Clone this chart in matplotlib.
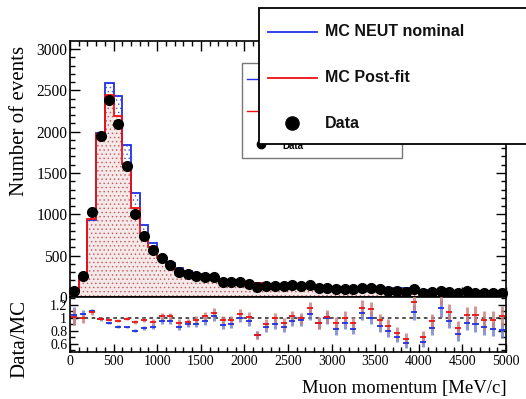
import numpy as np
import matplotlib
matplotlib.use("Agg")
import matplotlib.pyplot as plt
from matplotlib.patches import Rectangle
from matplotlib.lines import Line2D
from matplotlib.ticker import MultipleLocator, FixedLocator, FuncFormatter

# ---------------- data ----------------
bin_edges = np.arange(0, 5001, 100)

data_counts = [72, 250, 1025, 1943, 2379, 2097, 1581, 1008, 738, 565,
               476, 391, 302, 282, 258, 236, 236, 185, 183, 185,
               158, 123, 137, 137, 133, 145, 133, 145, 113, 113,
               97, 97, 97, 105, 105, 93, 77, 77, 65, 93,
               52, 65, 77, 65, 52, 73, 52, 52, 52, 45]

mc_nominal = [69, 238, 927, 1988, 2593, 2435, 1843, 1258, 875, 657,
              501, 412, 351, 310, 284, 248, 231, 208, 203, 185,
              166, 168, 161, 151, 156, 153, 139, 138, 124, 113,
              118, 105, 117, 98, 105, 107, 97, 110, 107, 86,
              83, 78, 67, 68, 70, 79, 58, 61, 63, 56]

mc_postfit = [71, 253, 948, 1976, 2447, 2193, 1609, 1077, 766, 605,
              467, 383, 328, 303, 266, 231, 219, 193, 191, 175,
              156, 168, 151, 138, 146, 142, 134, 126, 123, 111,
              105, 97, 105, 91, 93, 97, 88, 101, 96, 75,
              74, 69, 57, 60, 62, 70, 50, 54, 54, 44]

legend_labels = ["MC NEUT nominal", "MC Post-fit", "Data"]
x_ticks = [0, 500, 1000, 1500, 2000, 2500, 3000, 3500, 4000, 4500, 5000]
y_ticks = [0, 500, 1000, 1500, 2000, 2500, 3000]
ratio_ticks = [0.6, 0.8, 1.0, 1.2]

# ---------------- derived ----------------
data_arr = np.array(data_counts, float)
nom = np.array(mc_nominal, float)
post = np.array(mc_postfit, float)
centers = 0.5 * (bin_edges[:-1] + bin_edges[1:])
data_err = np.sqrt(data_arr)
r_nom = data_arr / nom
r_post = data_arr / post
e_nom = data_err / nom
e_post = data_err / post

BLUE = "#1f2fe8"
RED = "#f01010"

W, H = 526, 399
def fx(x): return x / W
def fy(y): return 1 - y / H

plt.rcParams['hatch.linewidth'] = 0.5
fig = plt.figure(figsize=(W / 100, H / 100), dpi=100)

serif = "Liberation Serif"
sans = "Liberation Sans"

ax = fig.add_axes([fx(70), fy(297), fx(506) - fx(70), fy(41) - fy(297)])
axr = fig.add_axes([fx(70), fy(352), fx(506) - fx(70), fy(297) - fy(352)])

# ---- top panel ----
ax.stairs(nom, bin_edges, fill=True, facecolor="none", edgecolor="#4a5ae0",
          hatch="....", linewidth=0, zorder=1)
ax.stairs(post, bin_edges, fill=True, facecolor="#f5e8e8", edgecolor="#c85858",
          hatch="....", linewidth=0, zorder=2)
ax.stairs(nom, bin_edges, color=BLUE, linewidth=1.3, zorder=3)
ax.stairs(post, bin_edges, color=RED, linewidth=1.3, zorder=4)
ax.errorbar(centers, data_arr, yerr=data_err, fmt="o", color="black",
            ms=7.0, elinewidth=1.0, capsize=0, zorder=5, clip_on=False)

ax.set_xlim(0, 5000)
ax.set_ylim(0, 3097)
ax.xaxis.set_major_locator(FixedLocator(x_ticks))
ax.xaxis.set_minor_locator(MultipleLocator(100))
ax.yaxis.set_major_locator(FixedLocator(y_ticks))
ax.yaxis.set_minor_locator(MultipleLocator(100))
ax.tick_params(which="both", direction="in", top=True, right=True,
               labelbottom=False, width=1.0)
ax.tick_params(which="major", length=7)
ax.tick_params(which="minor", length=3.5)
ax.tick_params(axis="y", labelsize=11.2, pad=2)
for lab in ax.get_yticklabels():
    lab.set_fontfamily(serif)
for s in ax.spines.values():
    s.set_linewidth(1.2)

# ---- ratio panel ----
axr.axhline(1.0, color="#444444", linestyle=(0, (2, 2)), linewidth=1.3, zorder=1)
axr.errorbar(centers, r_nom, yerr=e_nom, fmt="none", ecolor="#6f80cc",
             elinewidth=2.2, alpha=0.8, capsize=0, zorder=2)
axr.errorbar(centers, r_post, yerr=e_post, fmt="none", ecolor="#c88080",
             elinewidth=2.2, alpha=0.8, capsize=0, zorder=3)
axr.errorbar(centers, r_nom, xerr=35, fmt="none", ecolor=BLUE,
             elinewidth=1.3, capsize=0, zorder=4)
axr.errorbar(centers, r_post, xerr=35, fmt="none", ecolor=RED,
             elinewidth=1.3, capsize=0, zorder=5)

axr.set_xlim(0, 5000)
axr.set_ylim(0.47, 1.32)
axr.xaxis.set_major_locator(FixedLocator(x_ticks))
axr.xaxis.set_minor_locator(MultipleLocator(100))
axr.yaxis.set_major_locator(FixedLocator(ratio_ticks))
axr.yaxis.set_minor_locator(MultipleLocator(0.1))
axr.yaxis.set_major_formatter(FuncFormatter(lambda v, p: f"{v:g}"))
axr.tick_params(which="both", direction="in", top=False, right=True, width=1.0)
axr.tick_params(which="major", length=6)
axr.tick_params(which="minor", length=3.5)
axr.tick_params(axis="both", labelsize=10, pad=2)
for lab in axr.get_yticklabels() + axr.get_xticklabels():
    lab.set_fontfamily(serif)
for s in axr.spines.values():
    s.set_linewidth(1.2)

# ---- axis titles ----
fig.text(fx(20), fy(121), "Number of events", rotation=90, ha="center",
         va="center", fontsize=15, family=serif)
fig.text(fx(20), fy(339), "Data/MC", rotation=90, ha="center",
         va="center", fontsize=15, family=serif)
fig.text(fx(507), fy(388), "Muon momentum [MeV/c]", ha="right",
         va="center", fontsize=13.5, family=serif)

# ---- small (background) legend ----
fig.add_artist(Rectangle((fx(242), fy(158)), fx(402) - fx(242), fy(63) - fy(158),
                         transform=fig.transFigure, facecolor="white",
                         edgecolor="#777777", linewidth=1.0, zorder=5))
fig.add_artist(Line2D([fx(247), fx(262)], [fy(79), fy(79)], transform=fig.transFigure,
                      color=BLUE, linewidth=1.0, zorder=6))
fig.add_artist(Line2D([fx(247), fx(262)], [fy(111), fy(111)], transform=fig.transFigure,
                      color=RED, linewidth=1.0, zorder=6))
fig.add_artist(Line2D([fx(261)], [fy(144)], transform=fig.transFigure, marker="o",
                      color="black", ms=6, linestyle="none", zorder=6))
fig.text(fx(282), fy(146), legend_labels[2], fontsize=7, fontweight="bold",
         family=sans, va="center", ha="left", zorder=6)

# ---- main legend ----
fig.add_artist(Rectangle((fx(259), fy(144)), fx(535) - fx(259), fy(8) - fy(144),
                         transform=fig.transFigure, facecolor="white",
                         edgecolor="black", linewidth=1.3, zorder=10))
fig.add_artist(Line2D([fx(268), fx(317)], [fy(32), fy(32)], transform=fig.transFigure,
                      color=BLUE, linewidth=1.3, zorder=11))
fig.add_artist(Line2D([fx(268), fx(317)], [fy(78), fy(78)], transform=fig.transFigure,
                      color=RED, linewidth=1.3, zorder=11))
fig.add_artist(Line2D([fx(292)], [fy(123)], transform=fig.transFigure, marker="o",
                      color="black", ms=9.5, linestyle="none", zorder=11))
for lab, yy in zip(legend_labels, [32, 78, 123]):
    fig.text(fx(325), fy(yy), lab, fontsize=11.5, fontweight="bold", family=sans,
             va="center", ha="left", color="#111111", zorder=11)

fig.savefig("out.png", dpi=100)
